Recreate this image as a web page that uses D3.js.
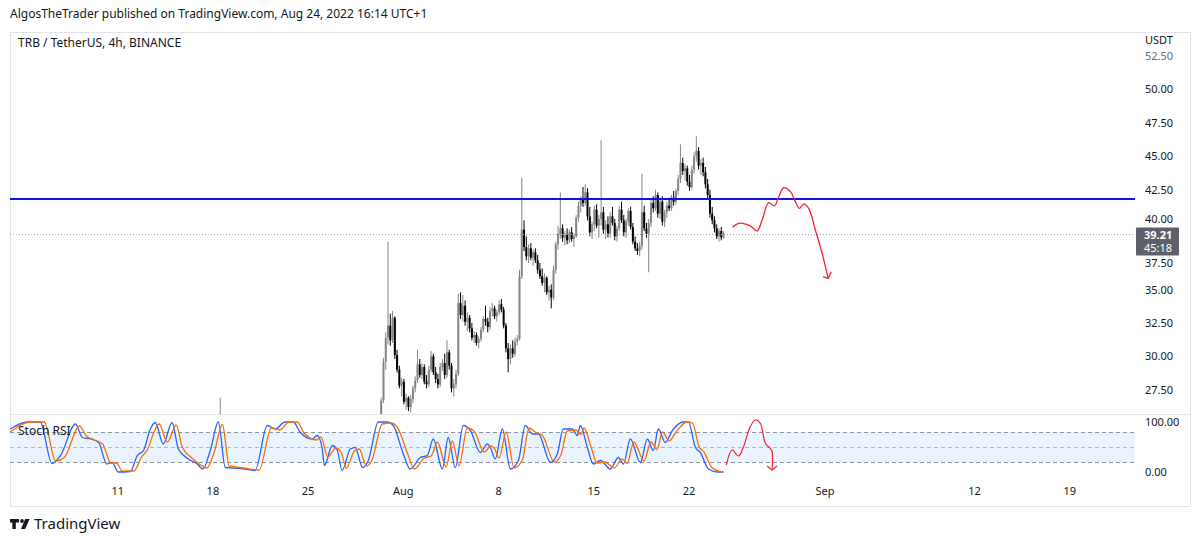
<!doctype html>
<html>
<head>
<meta charset="UTF-8"/>
<title>TRB / TetherUS, 4h</title>
<script src="https://d3js.org/d3.v7.min.js"></script>
<style>
  body { margin: 0; padding: 0; background: #fff; }
  svg { display: block; font-family: "Noto Sans", sans-serif; }
</style>
</head>
<body>
<svg id="chart" width="1200" height="542"></svg>
<script>
// ---- data ----
const priceTicks = [27.5, 30, 32.5, 35, 37.5, 40, 42.5, 45, 47.5, 50, 52.5];
const stochTicks = [0, 100];
const stochBands = [80, 50, 20];
const dateTicks = ["2022-07-11", "2022-07-18", "2022-07-25", "2022-08-01", "2022-08-08",
                   "2022-08-15", "2022-08-22", "2022-09-01", "2022-09-12", "2022-09-19"];
const dateLabels = ["11", "18", "25", "Aug", "8", "15", "22", "Sep", "12", "19"];
const resistance = 41.8;
const lastPrice = 39.21;
const countdown = "45:18";

// 4h candles [open, high, low, close]
const julyStart = "2022-07-18T09:00Z";
const julyCandles = [[24.1, 24.4, 23.6, 23.9], [23.9, 26.9, 23.7, 24.6], [24.6, 24.8, 23.9, 24.2]];

const candleStart = "2022-07-30T09:00Z";
const candles = [
  [24.8,26.9,24.6,26.7],[26.7,29.9,26.5,29.6],[29.6,31.8,29.0,31.4],[31.4,38.6,30.9,32.3],
  [32.3,33.2,30.8,31.2],[31.2,33.4,31.0,32.9],[32.9,33.0,29.8,30.1],[30.1,30.5,28.8,29.0],[29.0,29.3,27.6,27.8],[27.8,28.4,27.0,28.1],
  [28.1,28.3,26.4,26.6],[26.6,27.2,26.0,26.9],[26.9,27.0,25.9,26.2],[26.2,27.1,25.8,26.8],[26.8,27.8,26.5,27.6],[27.6,28.5,27.3,28.2],
  [28.2,30.5,28.0,29.4],[29.4,29.8,28.4,28.6],[28.6,29.5,28.3,29.2],[29.2,29.4,27.9,28.1],[28.1,28.6,27.6,27.9],[27.9,29.3,27.7,29.0],
  [29.0,30.4,28.8,30.0],[30.0,30.2,28.6,28.8],[28.8,29.2,28.0,28.3],[28.3,28.7,27.6,27.9],[27.9,29.5,27.7,29.2],[29.2,29.8,28.9,29.5],
  [29.5,30.2,28.3,28.6],[28.6,31.2,28.4,30.3],[30.3,30.5,29.0,29.3],[29.3,29.5,27.3,27.6],[27.6,28.3,27.0,27.9],[27.9,29.0,27.6,28.7],
  [28.7,34.7,28.5,34.0],[34.0,34.8,32.8,33.1],[33.1,34.6,32.6,33.8],[33.8,34.2,32.3,32.6],[32.6,33.3,31.9,32.9],[32.9,33.1,31.8,32.1],
  [32.1,32.5,31.2,31.4],[31.4,31.9,31.0,31.6],[31.6,31.8,30.8,31.0],[31.0,31.5,30.6,31.3],[31.3,32.2,31.1,32.0],[32.0,33.0,31.8,32.8],
  [32.8,33.8,32.3,32.6],[32.6,32.9,31.8,32.2],[32.2,33.7,32.0,33.4],[33.4,34.0,33.0,33.6],[33.6,33.8,32.8,33.0],[33.0,33.5,32.6,33.3],
  [33.3,34.2,33.1,33.9],[33.9,34.3,33.3,33.5],[33.5,33.7,32.1,32.3],[32.3,32.5,30.3,30.6],[30.6,31.0,28.8,29.8],[29.8,30.9,29.4,30.6],
  [30.6,31.2,29.9,30.2],[30.2,31.4,30.0,31.1],[31.1,31.6,30.8,31.3],[31.3,36.5,31.2,36.0],[36.0,43.4,35.8,39.5],[39.5,40.2,37.9,38.2],
  [38.2,39.0,37.2,37.5],[37.5,38.4,37.0,38.1],[38.1,38.5,37.2,37.4],[37.4,38.0,36.8,37.8],[37.8,38.1,37.0,37.2],[37.2,37.6,36.2,36.5],
  [36.5,37.0,35.8,36.0],[36.0,36.6,35.3,35.5],[35.5,36.2,34.8,35.9],[35.9,36.0,34.6,34.8],[34.8,35.3,34.2,35.0],[35.0,35.4,33.6,34.4],
  [34.4,36.8,34.2,36.5],[36.5,38.6,36.2,38.4],[38.4,39.8,38.0,39.2],[39.2,42.3,38.8,39.6],[39.6,39.9,38.6,38.9],[38.9,39.4,38.3,39.1],
  [39.1,39.6,38.4,38.7],[38.7,39.5,38.5,39.3],[39.3,39.7,38.6,38.8],[38.8,39.2,38.2,39.0],[39.0,40.6,38.9,40.4],[40.4,41.6,40.1,41.3],
  [41.3,42.0,40.8,41.8],[41.8,42.7,41.2,41.5],[41.5,42.9,41.3,42.3],[42.3,42.6,40.2,40.5],[40.5,41.2,39.0,39.3],[39.3,40.1,38.8,39.9],
  [39.9,41.3,39.4,41.0],[41.0,41.4,39.6,39.8],[39.8,40.6,38.9,40.3],[40.3,46.2,39.8,40.8],[40.8,41.2,39.2,39.5],[39.5,40.2,38.8,39.9],
  [39.9,40.5,38.9,39.2],[39.2,40.8,38.9,40.5],[40.5,41.2,39.8,40.0],[40.0,40.3,38.7,39.0],[39.0,39.8,38.6,39.6],[39.6,41.3,39.4,41.0],
  [41.0,41.6,40.0,40.2],[40.2,40.6,39.0,39.3],[39.3,40.3,38.9,40.1],[40.1,41.1,39.8,40.9],[40.9,41.2,39.5,39.7],[39.7,40.0,38.4,38.6],
  [38.6,39.0,37.9,38.1],[38.1,38.5,37.6,37.9],[37.9,38.6,37.5,38.3],[38.3,43.7,38.0,40.8],[40.8,41.3,39.4,39.6],[39.6,40.0,38.9,39.2],
  [39.2,40.3,36.3,40.0],[40.0,41.8,39.7,41.5],[41.5,42.0,40.8,41.1],[41.1,42.5,40.9,42.1],[42.1,42.3,40.4,40.7],[40.7,41.9,40.3,41.6],
  [41.6,42.0,39.8,40.1],[40.1,41.0,39.7,40.8],[40.8,41.6,40.4,41.3],[41.3,41.9,40.9,41.1],[41.1,42.1,40.9,41.9],[41.9,42.4,41.3,41.6],
  [41.6,42.6,41.4,42.4],[42.4,43.6,42.1,43.3],[43.3,45.9,43.0,44.5],[44.5,44.9,43.6,43.9],[43.9,44.4,43.2,44.1],[44.1,44.3,42.8,43.1],
  [43.1,43.6,42.4,42.7],[42.7,44.3,42.5,44.0],[44.0,45.3,43.7,45.0],[45.0,46.5,44.6,45.4],[45.4,45.7,44.0,44.3],[44.3,44.8,43.6,44.5],
  [44.5,44.9,43.5,43.8],[43.8,44.2,42.6,42.9],[42.9,43.3,41.8,42.1],[42.1,42.5,40.4,40.7],[40.7,41.2,39.9,40.2],[40.2,40.5,39.3,39.6],
  [39.6,39.9,38.8,39.0],[39.0,39.6,38.6,39.4],[39.4,39.7,38.7,38.9],[38.9,39.4,38.8,39.21]
];

// Stoch RSI, [days since 1 Jul, value]
const stochK = [
  [2.1,86],[3.35,100],[4.3,100],[5.17,17],[5.8,33],[6.9,96],[7.4,69],[8.0,66],[8.6,59],[9.2,16],[9.6,19],
  [10.04,0],[10.93,1],[11.44,33],[11.9,43],[12.4,86],[12.76,99],[13.35,56],[14.0,99],[14.46,46],[15.2,26],
  [15.85,16],[16.26,6],[16.81,43],[17.4,100],[17.91,9],[19.0,7],[20.1,3],[21.0,93],[21.6,86],[22.3,100],
  [22.9,100],[23.43,79],[24.3,66],[24.68,73],[25.04,46],[25.2,13],[25.78,53],[26.15,43],[26.5,3],[27.1,46],
  [27.47,49],[28.0,9],[28.43,23],[29.16,100],[29.82,100],[30.26,93],[31.0,36],[31.51,6],[32.25,29],[32.76,33],
  [33.2,66],[33.87,6],[34.3,69],[34.82,9],[35.41,93],[35.93,83],[36.66,39],[37.18,56],[37.4,49],[37.76,26],
  [38.28,86],[38.87,6],[39.46,23],[39.97,93],[40.49,76],[40.93,76],[41.82,19],[42.32,36],[42.76,86],[43.43,86],
  [43.79,73],[44.01,93],[44.53,49],[44.97,16],[45.49,23],[46.22,6],[46.81,29],[47.18,16],[47.69,66],[48.43,19],
  [48.94,66],[49.38,43],[49.75,86],[50.26,59],[50.78,83],[51.59,100],[51.96,100],[52.47,49],[52.84,39],[53.43,6],
  [54.1,0],[54.53,0]
];
const stochD = [
  [2.1,80],[3.6,100],[4.6,100],[5.45,22],[6.1,30],[7.2,92],[7.7,72],[8.3,64],[8.9,56],[9.5,18],[9.9,18],
  [10.35,2],[11.2,2],[11.75,30],[12.2,45],[12.7,82],[13.05,96],[13.65,60],[14.3,94],[14.75,50],[15.5,27],
  [16.1,14],[16.55,8],[17.1,40],[17.7,95],[18.2,12],[19.3,8],[20.4,4],[21.3,88],[21.9,84],[22.6,100],
  [23.2,100],[23.7,78],[24.6,64],[24.95,70],[25.45,30],[26.05,48],[26.45,38],[26.8,7],[27.4,42],[27.75,46],
  [28.3,12],[28.7,24],[29.45,96],[30.1,98],[30.55,90],[31.3,38],[31.8,6],[32.55,28],[33.05,32],[33.5,60],
  [34.15,10],[34.6,62],[35.1,12],[35.7,88],[36.2,82],[36.95,40],[37.45,52],[37.7,47],[38.05,28],[38.55,80],
  [39.15,8],[39.75,24],[40.25,88],[40.8,78],[41.2,74],[42.1,20],[42.6,35],[43.05,82],[43.7,84],[44.05,75],
  [44.3,88],[44.8,50],[45.25,18],[45.8,20],[46.5,8],[47.1,26],[47.45,17],[47.95,60],[48.7,22],[49.2,60],
  [49.65,45],[50.05,80],[50.55,62],[51.05,80],[51.85,100],[52.25,98],[52.75,50],[53.1,40],[53.7,8],[54.3,1],
  [54.53,0]
];

// hand-drawn red forecasts, [days since 1 Jul, price / stoch value]
const priceSketch = [
  [55.21,39.68],[55.65,39.98],[56.51,39.78],[57.01,39.4],[57.38,40.23],[57.86,41.52],[58.28,41.28],
  [58.6,41.97],[58.96,42.65],[59.46,42.35],[60.12,41.1],[60.43,41.43],[60.8,41.1],[61.29,39.48],
  [61.79,37.73],[62.23,35.85]
];
const priceArrow = [[61.85,35.97],[62.23,35.85],[62.47,36.35]];
const stochSketch = [
  [54.75,14],[55.17,44],[55.65,32],[56.02,51],[56.51,91],[56.88,104],[57.25,97],[57.62,57],
  [57.99,47],[58.11,41],[58.11,4]
];
const stochArrow = [[57.74,12],[58.11,4],[58.48,12]];

// ---- layout ----
const frame = { left: 10, right: 1190, top: 32, bottom: 506 };
const plotRight = 1135;
const pricePane = { top: 32, bottom: 414 };
const axisX = 1145;

const svg = d3.select("#chart");
const day0 = Date.UTC(2022, 6, 1);
const dayToDate = d => new Date(day0 + d * 864e5);

const x = d3.scaleUtc()
  .domain([new Date("2022-07-03T02:00Z"), new Date("2022-09-23T19:00Z")])
  .range([frame.left, plotRight]);
const y = d3.scaleLinear().domain([27.5, 52.5]).range([389.7, 56.3]);
const ys = d3.scaleLinear().domain([0, 100]).range([472, 422]);

const defs = svg.append("defs");
defs.append("clipPath").attr("id", "clipPrice").append("rect")
  .attr("x", frame.left).attr("y", pricePane.top)
  .attr("width", plotRight - frame.left).attr("height", pricePane.bottom - pricePane.top);
defs.append("clipPath").attr("id", "clipStoch").append("rect")
  .attr("x", frame.left).attr("y", pricePane.bottom + 1)
  .attr("width", plotRight - frame.left).attr("height", 70);

// header
svg.append("text").attr("x", 10).attr("y", 18).attr("font-size", 12).attr("fill", "#131722")
  .text("AlgosTheTrader published on TradingView.com, Aug 24, 2022 16:14 UTC+1");

// frame
svg.append("rect").attr("x", frame.left + 0.5).attr("y", frame.top + 0.5)
  .attr("width", frame.right - frame.left).attr("height", frame.bottom - frame.top)
  .attr("fill", "none").attr("stroke", "#e0e3eb");
svg.append("line").attr("x1", frame.left).attr("x2", frame.right)
  .attr("y1", pricePane.bottom + 0.5).attr("y2", pricePane.bottom + 0.5)
  .attr("stroke", "#e0e3eb");

svg.append("text").attr("x", 18).attr("y", 47).attr("font-size", 12).attr("fill", "#131722")
  .text("TRB / TetherUS, 4h, BINANCE");

// price pane
const pg = svg.append("g").attr("clip-path", "url(#clipPrice)");

const bars = [];
julyCandles.forEach((c, i) => bars.push({ t: new Date(+new Date(julyStart) + i * 4 * 36e5), o: c[0], h: c[1], l: c[2], c: c[3] }));
candles.forEach((c, i) => bars.push({ t: new Date(+new Date(candleStart) + i * 4 * 36e5), o: c[0], h: c[1], l: c[2], c: c[3] }));

const upCol = "#858585", downCol = "#000000";
const cg = pg.append("g");
cg.selectAll("line").data(bars).join("line")
  .attr("x1", d => x(d.t)).attr("x2", d => x(d.t))
  .attr("y1", d => y(d.h)).attr("y2", d => y(d.l))
  .attr("stroke", d => d.c >= d.o ? upCol : downCol).attr("stroke-width", 1);
cg.selectAll("rect").data(bars).join("rect")
  .attr("x", d => x(d.t) - 1).attr("width", 2)
  .attr("y", d => y(Math.max(d.o, d.c)))
  .attr("height", d => Math.max(1, Math.abs(y(d.o) - y(d.c))))
  .attr("fill", d => d.c >= d.o ? upCol : downCol);

// resistance
pg.append("line").attr("x1", frame.left).attr("x2", plotRight)
  .attr("y1", y(resistance)).attr("y2", y(resistance))
  .attr("stroke", "#0a14e6").attr("stroke-width", 2);

// last price line
pg.append("line").attr("x1", frame.left).attr("x2", plotRight)
  .attr("y1", y(lastPrice) + 1).attr("y2", y(lastPrice) + 1)
  .attr("stroke", "#a3a6af").attr("stroke-dasharray", "1,2");

const redLine = d3.line().x(d => x(dayToDate(d[0]))).curve(d3.curveCatmullRom);
pg.append("path").datum(priceSketch)
  .attr("d", redLine.y(d => y(d[1])))
  .attr("fill", "none").attr("stroke", "#f5222d").attr("stroke-width", 1.3);
pg.append("path").datum(priceArrow)
  .attr("d", d3.line().x(d => x(dayToDate(d[0]))).y(d => y(d[1])))
  .attr("fill", "none").attr("stroke", "#f5222d").attr("stroke-width", 1.3);

// price axis; the two labels next to the last-price tag are nudged clear of it
const lbY = y(lastPrice) - 6;
const labelY = v => {
  const p = y(v);
  if (p >= lbY - 8 && p <= lbY + 14) return lbY - 8;
  if (p > lbY + 14 && p <= lbY + 36) return lbY + 36;
  return p;
};
const pax = svg.append("g");
pax.selectAll("text").data(priceTicks).join("text")
  .attr("x", axisX).attr("y", d => labelY(d)).attr("dy", "0.35em")
  .attr("font-size", 11).attr("fill", d => d === 52.5 ? "#6a6d78" : "#131722")
  .text(d => d3.format(".2f")(d));
svg.append("text").attr("x", axisX).attr("y", 40).attr("dy", "0.35em")
  .attr("font-size", 11).attr("fill", "#131722").text("USDT");

svg.append("rect").attr("x", plotRight + 1).attr("y", lbY)
  .attr("width", 43).attr("height", 28).attr("rx", 1).attr("fill", "#5d606b");
svg.append("text").attr("x", axisX - 1).attr("y", lbY + 8).attr("dy", "0.35em")
  .attr("font-size", 11).attr("font-weight", "bold").attr("fill", "#fff").text(lastPrice.toFixed(2));
svg.append("text").attr("x", axisX - 1).attr("y", lbY + 21).attr("dy", "0.35em")
  .attr("font-size", 11).attr("fill", "#fff").text(countdown);

// stoch pane
const sg = svg.append("g").attr("clip-path", "url(#clipStoch)");
sg.append("rect").attr("x", frame.left).attr("width", plotRight - frame.left)
  .attr("y", ys(80)).attr("height", ys(20) - ys(80)).attr("fill", "#e9f4fe");
sg.selectAll("line.band").data(stochBands).join("line").attr("class", "band")
  .attr("x1", frame.left).attr("x2", plotRight)
  .attr("y1", d => ys(d) + 0.5).attr("y2", d => ys(d) + 0.5)
  .attr("stroke", "#8f929b").attr("stroke-dasharray", "4,3")
  .attr("stroke-opacity", d => d === 50 ? 0.6 : 1);

const sLine = d3.line().x(d => x(dayToDate(d[0]))).y(d => ys(d[1])).curve(d3.curveMonotoneX);
sg.append("path").datum(stochK).attr("d", sLine)
  .attr("fill", "none").attr("stroke", "#2962ff").attr("stroke-width", 1.3);
sg.append("path").datum(stochD).attr("d", sLine)
  .attr("fill", "none").attr("stroke", "#ff6d00").attr("stroke-width", 1.3);

svg.append("path").datum(stochSketch)
  .attr("d", d3.line().x(d => x(dayToDate(d[0]))).y(d => ys(d[1])).curve(d3.curveCatmullRom))
  .attr("fill", "none").attr("stroke", "#f5222d").attr("stroke-width", 1.2);
svg.append("path").datum(stochArrow)
  .attr("d", d3.line().x(d => x(dayToDate(d[0]))).y(d => ys(d[1])))
  .attr("fill", "none").attr("stroke", "#f5222d").attr("stroke-width", 1.2);

svg.append("text").attr("x", 18).attr("y", 431).attr("dy", "0.35em")
  .attr("font-size", 12).attr("fill", "#131722").text("Stoch RSI");

svg.selectAll("text.sax").data(stochTicks).join("text").attr("class", "sax")
  .attr("x", axisX).attr("y", d => ys(d)).attr("dy", "0.35em")
  .attr("font-size", 11).attr("fill", "#131722").text(d => d3.format(".2f")(d));

// time axis
svg.selectAll("text.tax").data(dateTicks).join("text").attr("class", "tax")
  .attr("x", d => x(new Date(d + "T00:00Z"))).attr("y", 491).attr("dy", "0.35em")
  .attr("text-anchor", "middle").attr("font-size", 11).attr("fill", "#131722")
  .text((d, i) => dateLabels[i]);

// footer logo
const logo = svg.append("g").attr("fill", "#131722");
logo.append("path").attr("d", "M10 519h9v3.5h-3.2v6.5h-3.4v-6.5H10z");
logo.append("circle").attr("cx", 22).attr("cy", 521).attr("r", 1.9);
logo.append("path").attr("d", "M25.2 519h4.4l-4.4 10h-4.2z");
svg.append("text").attr("x", 34).attr("y", 529).attr("font-size", 15).attr("fill", "#131722")
  .text("TradingView");
</script>
</body>
</html>
